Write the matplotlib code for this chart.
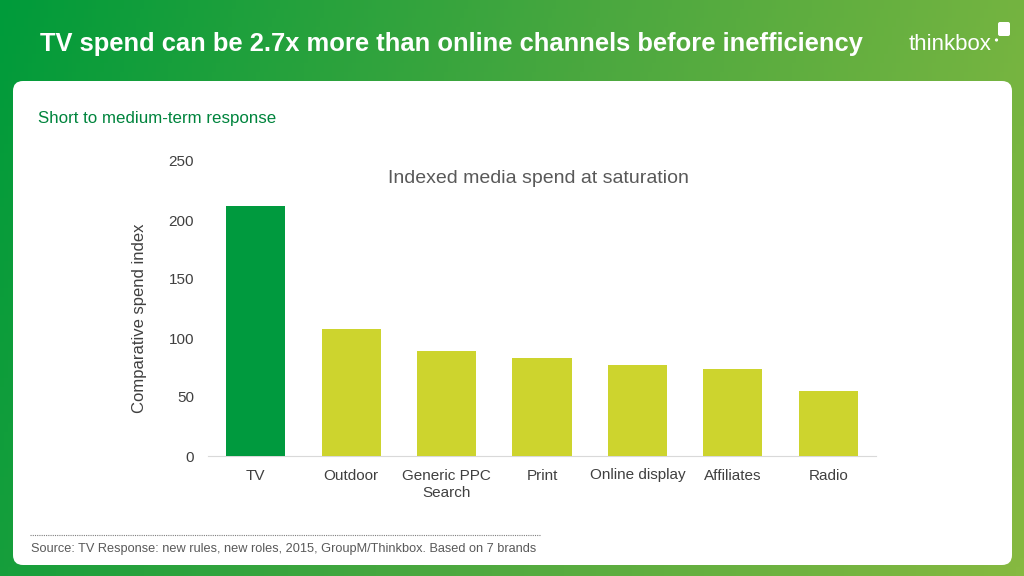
import numpy as np
import matplotlib.pyplot as plt
from matplotlib.patches import FancyBboxPatch
from matplotlib.colors import LinearSegmentedColormap

plt.rcParams['font.family'] = ['Liberation Sans', 'DejaVu Sans']

# Data
categories = ['TV', 'Outdoor', 'Generic PPC\nSearch', 'Print', 'Online display', 'Affiliates', 'Radio']
spend_index = [212, 108, 89, 83, 77, 74, 55]
yticks = [0, 50, 100, 150, 200, 250]

tv_green = '#009a3e'
lime = '#cdd42e'
bar_colors = [tv_green] + [lime] * (len(categories) - 1)

W, H = 1024, 576
fig = plt.figure(figsize=(W / 100, H / 100), dpi=100)

# background gradient
bg = fig.add_axes([0, 0, 1, 1])
bg.set_xlim(0, W)
bg.set_ylim(H, 0)
bg.axis('off')
cmap = LinearSegmentedColormap.from_list('g', ['#009b3a', '#4aa83f', '#86b941'])
gx = np.linspace(0, 1, 256)
gy = np.linspace(0, 1, 64)
grad = 0.85 * gx[None, :] + 0.15 * gy[:, None]
bg.imshow(grad, cmap=cmap, extent=[0, W, H, 0], aspect='auto', zorder=0)

# white panel
panel = FancyBboxPatch((13, 81), 999, 484, boxstyle='round,pad=0,rounding_size=10',
                       facecolor='white', edgecolor='none', zorder=1)
bg.add_patch(panel)

bg.text(40, 44, 'TV spend can be 2.7x more than online channels before inefficiency',
        color='white', fontsize=18.4, fontweight='bold', va='center', ha='left', zorder=2)
bg.text(909, 45, 'thinkbox', color='white', fontsize=16, va='center', ha='left', zorder=2)
bg.add_patch(FancyBboxPatch((998, 22), 12, 14, boxstyle='round,pad=0,rounding_size=2',
                            facecolor='white', edgecolor='none', zorder=2))
bg.add_patch(plt.Circle((996.5, 40), 0.9, color='white', zorder=2))

bg.text(38, 118, 'Short to medium-term response', color='#00843d', fontsize=12.2,
        va='center', ha='left', zorder=2)

bg.plot([30, 540], [535, 535], color='#7f7f7f', lw=0.8, ls=(0, (1, 1)), zorder=2)
bg.text(31, 549, 'Source: TV Response: new rules, new roles, 2015, GroupM/Thinkbox. Based on 7 brands',
        color='#595959', fontsize=9.2, va='center', ha='left', zorder=2)

# chart
ax = fig.add_axes([208 / W, 1 - 456 / H, (876 - 208) / W, (456 - 161) / H])
ax.set_facecolor('none')
x = np.arange(len(categories))
ax.bar(x, spend_index, width=0.62, color=bar_colors, zorder=3)
ax.set_xlim(-0.5, len(categories) - 0.5)
ax.set_ylim(0, 250)
ax.set_yticks(yticks)
ax.set_xticks(x)
ax.set_xticklabels(categories, fontsize=11, color='#404040', linespacing=1.3)
ax.tick_params(axis='y', labelsize=11, labelcolor='#404040', length=0, pad=10)
ax.tick_params(axis='x', length=0, pad=9)
for s in ['top', 'right', 'left']:
    ax.spines[s].set_visible(False)
ax.spines['bottom'].set_color('#d9d9d9')
ax.set_ylabel('Comparative spend index', fontsize=12, color='#404040')
ax.yaxis.set_label_coords(-61 / 668, (456 - 318) / 295)
ax.text(0.495, 0.94, 'Indexed media spend at saturation', transform=ax.transAxes,
        ha='center', va='center', fontsize=14, color='#595959')

fig.savefig('out.png', dpi=100)
